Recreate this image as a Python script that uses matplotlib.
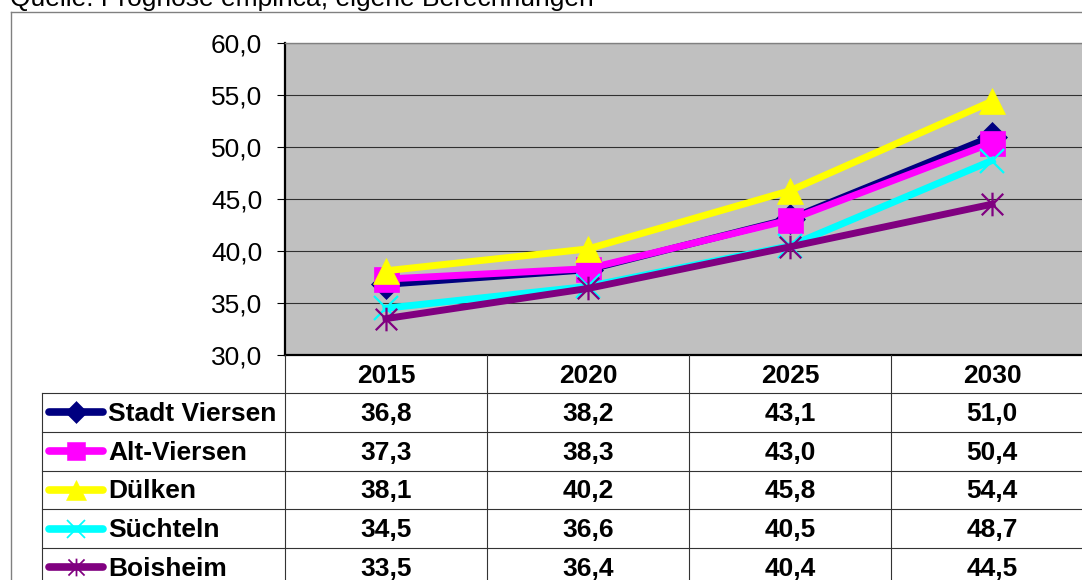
import matplotlib
matplotlib.use("Agg")
import matplotlib.pyplot as plt
from matplotlib.path import Path
from matplotlib.ticker import FuncFormatter, MultipleLocator

plt.rcParams['font.family'] = ['Liberation Sans', 'DejaVu Sans']

# Bevölkerungsanteil je Ortsteil, Prognose
years = ['2015', '2020', '2025', '2030']
names = ['Stadt Viersen', 'Alt-Viersen', 'Dülken', 'Süchteln', 'Boisheim']
stadt_viersen = [36.8, 38.2, 43.1, 51.0]
alt_viersen = [37.3, 38.3, 43.0, 50.4]
duelken = [38.1, 40.2, 45.8, 54.4]
suechteln = [34.5, 36.6, 40.5, 48.7]
boisheim = [33.5, 36.4, 40.4, 44.5]
series = [stadt_viersen, alt_viersen, duelken, suechteln, boisheim]

source = 'Quelle: Prognose empirica; eigene Berechnungen'

# X with a vertical bar (Excel "star" marker)
star = Path([(-1, -1), (1, 1), (-1, 1), (1, -1), (0, -1.1), (0, 1.1)],
            [Path.MOVETO, Path.LINETO, Path.MOVETO, Path.LINETO,
             Path.MOVETO, Path.LINETO])

styles = [
    dict(color='#000080', marker='D', ms=15),
    dict(color='#FF00FF', marker='s', ms=18),
    dict(color='#FFFF00', marker='^', ms=19),
    dict(color='#00FFFF', marker='x', ms=17, mew=1.6),
    dict(color='#800080', marker=star, ms=17, mew=1.6),
]

W, H = 1082, 580
fig = plt.figure(figsize=(W / 100, H / 100), dpi=100)


def fx(px):
    return px / W


def fy(py):
    return 1 - py / H


# plot area
left, right, top, bottom = 285, 1093, 43, 355
ax = fig.add_axes([fx(left), fy(bottom), fx(right - left), (bottom - top) / H])
ax.set_facecolor('#C0C0C0')
ax.set_xlim(-0.5, len(years) - 0.5)
ax.set_ylim(30, 60)
ax.yaxis.set_major_locator(MultipleLocator(5))
ax.yaxis.set_major_formatter(FuncFormatter(lambda v, p: f'{v:.1f}'.replace('.', ',')))
ax.grid(axis='y', color='#303030', lw=0.8)
ax.set_axisbelow(True)
ax.set_xticks([])
ax.tick_params(axis='y', length=5.8, width=0.8, pad=10.5, labelsize=19, color='black')
ax.spines['left'].set_linewidth(1.6)
ax.spines['bottom'].set_linewidth(1.6)
ax.spines['top'].set_color('#808080')
ax.spines['top'].set_linewidth(1)
ax.spines['right'].set_visible(False)

for vals, st in zip(series, styles):
    ax.plot(range(len(years)), vals, lw=5, color=st['color'], marker=st['marker'],
            ms=st['ms'], mfc=st['color'], mec=st['color'], mew=st.get('mew', 0.5),
            solid_joinstyle='round', clip_on=False)

# overlay in pixel coordinates for frame and caption
lay = fig.add_axes([0, 0, 1, 1], zorder=-1)
lay.set_xlim(0, W)
lay.set_ylim(H, 0)
lay.axis('off')

lay.plot([11, W], [12, 12], color='#808080', lw=1)
lay.plot([11, 11], [12, H], color='#808080', lw=1)
lay.text(10, 6, source, fontsize=19, va='baseline', ha='left')

# data table with legend keys
tab = fig.add_axes([0, 0, 1, 1], zorder=3)
tab.set_xlim(0, W)
tab.set_ylim(H, 0)
tab.axis('off')

band = (right - left) / len(years)
col_edges = [left + i * band for i in range(len(years) + 1)]
col_centers = [left + (i + 0.5) * band for i in range(len(years))]
leg_left = 42
row_h = 38.75
head_bottom = 393
grid_kw = dict(color='#333333', lw=0.8)
fs = 19

for c, yr in zip(col_centers, years):
    tab.text(c, (bottom + head_bottom) / 2 + 2, yr, fontsize=fs, fontweight='bold',
             ha='center', va='center')
for x in col_edges[:-1]:
    tab.plot([x, x], [bottom, H + 5], **grid_kw)
tab.plot([leg_left, leg_left], [head_bottom, H + 5], **grid_kw)

for i, (name, vals, st) in enumerate(zip(names, series, styles)):
    y0 = head_bottom + i * row_h
    yc = y0 + row_h / 2
    tab.plot([leg_left, W], [y0, y0], **grid_kw)
    tab.plot([49, 103], [yc, yc], color=st['color'], lw=5.5, solid_capstyle='round')
    tab.plot([76], [yc], color=st['color'], marker=st['marker'], ms=st['ms'] * 0.75,
             mfc=st['color'], mec=st['color'], mew=st.get('mew', 0.5) * 0.8)
    tab.text(108, yc + 1.5, name, fontsize=fs, fontweight='bold', ha='left', va='center')
    for c, v in zip(col_centers, vals):
        tab.text(c, yc + 1.5, f'{v:.1f}'.replace('.', ','), fontsize=fs,
                 fontweight='bold', ha='center', va='center')

fig.savefig('out.png', dpi=100)
